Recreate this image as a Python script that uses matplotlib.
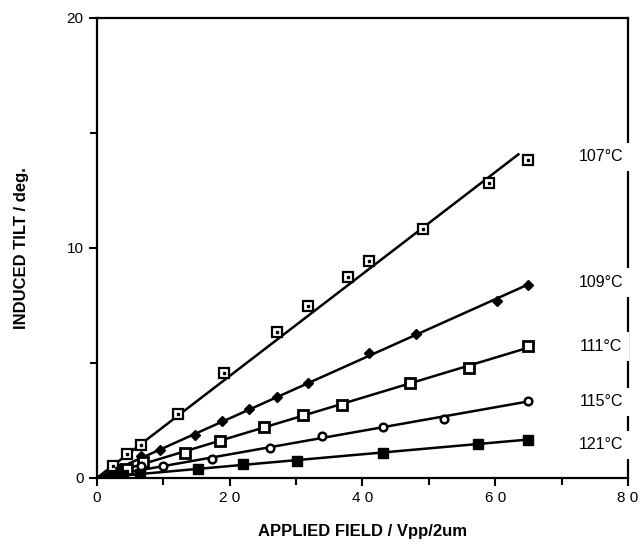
import numpy as np
import matplotlib
matplotlib.use('Agg')
import matplotlib.pyplot as plt
from matplotlib.ticker import MultipleLocator

plt.rcParams['font.family'] = ['Liberation Sans', 'DejaVu Sans']

# data: applied field (Vpp/2um) vs induced tilt (deg.)
x_107 = [2.4, 4.5, 6.6, 12.2, 19.1, 27.1, 31.8, 37.8, 41.0, 49.1, 59.0, 65.0]
y_107 = [0.53, 1.04, 1.43, 2.77, 4.55, 6.33, 7.48, 8.73, 9.43, 10.8, 12.8, 13.8]

x_109 = [3.5, 6.7, 9.5, 14.7, 18.9, 22.9, 27.2, 31.8, 41.0, 48.1, 60.3, 65.0]
y_109 = [0.42, 0.93, 1.19, 1.87, 2.49, 3.00, 3.51, 4.13, 5.42, 6.25, 7.70, 8.39]

x_111 = [4.5, 7.0, 13.3, 18.6, 25.1, 31.0, 36.9, 47.1, 56.1, 65.0]
y_111 = [0.38, 0.68, 1.06, 1.61, 2.22, 2.74, 3.17, 4.14, 4.77, 5.74]

x_115 = [3.0, 6.7, 9.9, 17.4, 26.1, 33.9, 43.1, 52.3, 65.0]
y_115 = [0.18, 0.50, 0.51, 0.84, 1.29, 1.83, 2.23, 2.57, 3.35]

x_121 = [2.3, 4.0, 6.5, 15.3, 22.0, 30.1, 43.1, 57.4, 65.0]
y_121 = [0.06, 0.12, 0.18, 0.39, 0.62, 0.75, 1.10, 1.48, 1.65]

labels = ['107°C', '109°C', '111°C', '115°C', '121°C']
label_y = [13.95, 8.48, 5.7, 3.3, 1.43]

fig = plt.figure(figsize=(6.42, 5.55), dpi=100)
ax = fig.add_axes([0.151, 0.139, 0.827, 0.829])

series = [
    (x_107, y_107, dict(marker='s', mfc='white', mec='black', ms=7, mew=1.6), 63.5),
    (x_109, y_109, dict(marker='D', mfc='black', mec='black', ms=5.5, mew=1.0), 65.0),
    (x_111, y_111, dict(marker='s', mfc='white', mec='black', ms=6.5, mew=2.0), 65.0),
    (x_115, y_115, dict(marker='o', mfc='white', mec='black', ms=5.5, mew=1.8), 65.0),
    (x_121, y_121, dict(marker='s', mfc='black', mec='black', ms=7, mew=1.0), 65.0),
]

for xs, ys, style, x_end in series:
    xs = np.array(xs)
    ys = np.array(ys)
    # least squares line through the origin
    k = np.sum(xs * ys) / np.sum(xs * xs)
    ax.plot([0, x_end], [0, k * x_end], color='black', lw=1.8, zorder=2)
    ax.plot(xs, ys, ls='none', zorder=3, **style)

# the small dot inside the 107 squares
ax.plot(x_107, y_107, ls='none', marker='s', ms=1.8, mfc='black', mec='black', zorder=4)

for lab, yy in zip(labels, label_y):
    ax.text(76.0, yy, lab, ha='center', va='center', fontsize=11.5,
            bbox=dict(facecolor='white', edgecolor='none', pad=5), zorder=5, clip_on=False)

ax.set_xlim(0, 80)
ax.set_ylim(0, 20)
ax.xaxis.set_major_locator(MultipleLocator(20))
ax.xaxis.set_minor_locator(MultipleLocator(10))
ax.yaxis.set_major_locator(MultipleLocator(10))
ax.yaxis.set_minor_locator(MultipleLocator(5))
ax.set_xticks([0, 20, 40, 60, 80])
ax.set_xticklabels(['0', '2 0', '4 0', '6 0', '8 0'])
ax.tick_params(which='major', direction='out', length=6, width=1.5, labelsize=11)
ax.tick_params(which='minor', direction='out', length=5, width=1.5)
for s in ax.spines.values():
    s.set_linewidth(1.6)

ax.set_xlabel('APPLIED FIELD / Vpp/2um', fontsize=12, fontweight='bold', labelpad=14)
ax.set_ylabel('INDUCED TILT / deg.', fontsize=12, fontweight='bold', labelpad=27)

fig.savefig('out.png', dpi=100)
